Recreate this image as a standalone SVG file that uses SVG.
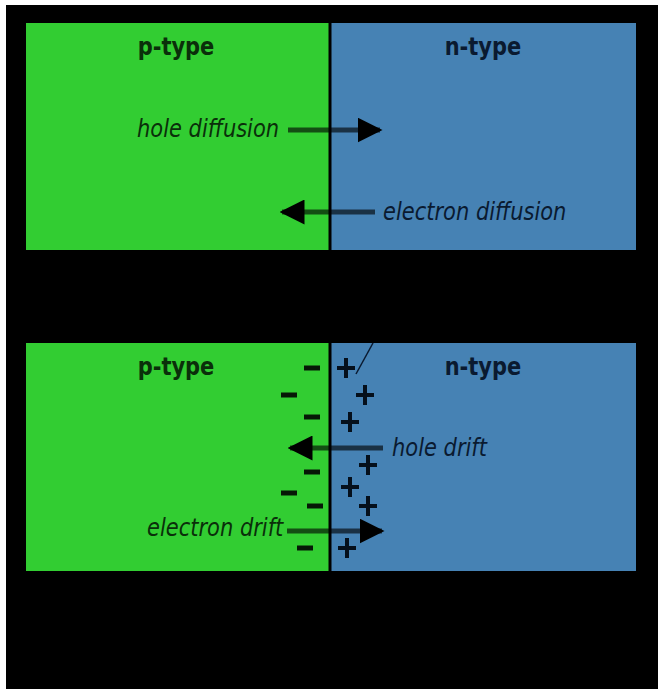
<svg xmlns="http://www.w3.org/2000/svg" width="658" height="689" viewBox="0 0 658 689">
  <style>
    .p { fill: #32cd32; }
    .n { fill: #4682b4; }
    .junction { stroke: #000; stroke-width: 3; }
    .title { font-family: "DejaVu Sans", "Liberation Sans", sans-serif; font-weight: bold; font-size: 21px; text-anchor: middle; }
    .lbl { font-family: "DejaVu Sans", "Liberation Sans", sans-serif; font-style: italic; font-size: 21px; }
    .onp { fill: #0a2f0a; }
    .onn { fill: #0a1a30; }
    .flow { stroke: #000; stroke-opacity: 0.62; stroke-width: 5; fill: none; }
    .charge { stroke: #05101c; stroke-width: 4; fill: none; }
    .neg { stroke: #061806; stroke-width: 5; fill: none; }
  </style>
  <defs>
    <marker id="head" viewBox="0 0 10 10" refX="9" refY="5" markerWidth="5" markerHeight="5" markerUnits="strokeWidth" orient="auto">
      <path d="M0,0 L10,5 L0,10 z" fill="#000"/>
    </marker>
  </defs>

  <!-- page -->
  <rect x="0" y="0" width="658" height="689" fill="#fff"/>
  <rect x="6" y="5" width="652" height="684" fill="#000"/>

  <!-- diffusion panel -->
  <g id="diffusion-panel">
    <g id="p-region-top">
      <rect class="p" x="26" y="23" width="304" height="227"/>
      <text class="title onp" transform="translate(176,55) scale(1,1.2)">p-type</text>
    </g>
    <g id="n-region-top">
      <rect class="n" x="330" y="23" width="306" height="227"/>
      <text class="title onn" transform="translate(483,55) scale(1,1.2)">n-type</text>
    </g>
    <line class="junction" x1="330" y1="23" x2="330" y2="250"/>
    <text id="hole-diffusion" class="lbl onp" transform="translate(137,137) scale(1,1.2)">hole diffusion</text>
    <text id="electron-diffusion" class="lbl onn" transform="translate(383,220) scale(1,1.2)">electron diffusion</text>
  </g>

  <!-- drift panel -->
  <g id="drift-panel">
    <g id="p-region-bottom">
      <rect class="p" x="26" y="343" width="304" height="228"/>
      <text class="title onp" transform="translate(176,375) scale(1,1.2)">p-type</text>
    </g>
    <g id="n-region-bottom">
      <rect class="n" x="330" y="343" width="306" height="228"/>
      <text class="title onn" transform="translate(483,375) scale(1,1.2)">n-type</text>
    </g>
    <line class="junction" x1="330" y1="343" x2="330" y2="571"/>
    <text id="hole-drift" class="lbl onn" transform="translate(392,456) scale(1,1.2)">hole drift</text>
    <text id="electron-drift" class="lbl onp" transform="translate(147,536) scale(1,1.2)">electron drift</text>

    <!-- negative ions on the p side -->
    <g id="negative-charges" class="neg">
      <line x1="304" y1="368" x2="320" y2="368"/>
      <line x1="281" y1="395" x2="297" y2="395"/>
      <line x1="304" y1="417" x2="320" y2="417"/>
      <line x1="304" y1="472" x2="320" y2="472"/>
      <line x1="281" y1="493" x2="297" y2="493"/>
      <line x1="307" y1="506" x2="323" y2="506"/>
      <line x1="297" y1="548" x2="313" y2="548"/>
    </g>

    <!-- positive ions on the n side -->
    <g id="positive-charges" class="charge">
      <path d="M337,368 h18 M346,358 v20"/>
      <path d="M356,395 h18 M365,385 v20"/>
      <path d="M341,422 h18 M350,412 v20"/>
      <path d="M359,465 h18 M368,455 v20"/>
      <path d="M341,487 h18 M350,477 v20"/>
      <path d="M359,506 h18 M368,496 v20"/>
      <path d="M338,548 h18 M347,538 v20"/>
    </g>
    <line x1="356" y1="374" x2="373" y2="343" stroke="#0a1a30" stroke-width="1.5"/>
  </g>

  <!-- carrier flow arrows -->
  <g id="connectors">
    <line class="flow" x1="288" y1="130" x2="380" y2="130" marker-end="url(#head)"/>
    <line class="flow" x1="375" y1="212" x2="282" y2="212" marker-end="url(#head)"/>
    <line class="flow" x1="383" y1="448" x2="290" y2="448" marker-end="url(#head)"/>
    <line class="flow" x1="287" y1="531" x2="382" y2="531" marker-end="url(#head)"/>
  </g>
</svg>
